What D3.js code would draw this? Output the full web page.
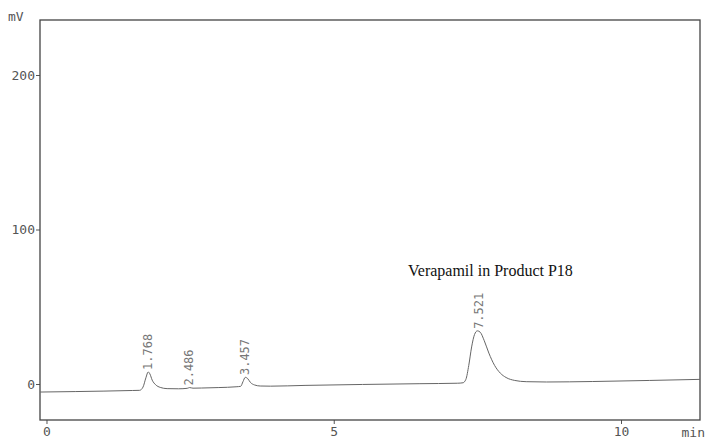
<!DOCTYPE html>
<html><head><meta charset="utf-8">
<script src="https://cdn.jsdelivr.net/npm/d3@7"></script>
<style>body{margin:0;background:#fff;} svg{display:block;}</style>
</head><body>
<svg id="c" width="707" height="440"></svg>
<script>
// Chromatogram trace (time in min, signal in mV)
const traceTime = [-0.11, 0.5, 1.0, 1.5, 1.62, 1.68, 1.73, 1.77, 1.80, 1.84, 1.90, 1.98, 2.10, 2.30, 2.45, 2.49, 2.55, 2.70, 3.00, 3.30, 3.38, 3.42, 3.46, 3.50, 3.55, 3.62, 3.72, 3.90, 4.5, 5.5, 6.5, 7.15, 7.25, 7.30, 7.35, 7.40, 7.45, 7.50, 7.55, 7.62, 7.70, 7.80, 7.90, 8.00, 8.15, 8.35, 8.7, 9.5, 10.5, 11.375];
const traceMv   = [-5.2, -4.9, -4.6, -4.2, -4.1, -2.0, 4.0, 7.8, 6.5, 2.5, -0.5, -2.2, -3.0, -3.1, -2.8, -2.3, -2.7, -2.6, -2.3, -1.8, -1.5, 1.5, 4.3, 3.6, 1.0, -0.6, -1.3, -1.4, -0.9, -0.3, 0.2, 0.5, 0.8, 3.0, 12, 24, 32, 34.4, 33.5, 28, 20, 12, 7, 4.2, 2.3, 1.5, 1.3, 1.6, 2.3, 3.0];
// Peak labels (retention times) and apex heights
const peakLabels = ["1.768", "2.486", "3.457", "7.521"];
const peakTimes  = [1.768, 2.486, 3.457, 7.521];
const peakHeights = [7.8, -2.3, 4.5, 34.4];
const yTicks = [0, 100, 200];
const xTicks = [0, 5, 10];
const annotation = "Verapamil in Product P18";

const svg = d3.select("#c");
const L = 40, R = 700, T = 20, B = 420;
const x = d3.scaleLinear().domain([-0.113, 11.375]).range([L, R]);
const y = d3.scaleLinear().domain([-23.3, 235.6]).range([B, T]);
const mono = "'DejaVu Sans Mono', monospace";
const axisCol = "#555";

// y axis ticks
const ya = svg.append("g").attr("transform", `translate(${L},0)`)
  .call(d3.axisLeft(y).tickValues(yTicks).tickSize(4).tickPadding(1));
ya.select(".domain").remove();
ya.selectAll("line").attr("stroke", axisCol);
ya.selectAll("text").attr("font-family", mono).attr("font-size", 13).attr("fill", "#555");

// x axis ticks
const xa = svg.append("g").attr("transform", `translate(0,${B})`)
  .call(d3.axisBottom(x).tickValues(xTicks).tickSize(4).tickPadding(3));
xa.select(".domain").remove();
xa.selectAll("line").attr("stroke", axisCol);
xa.selectAll("text").attr("font-family", mono).attr("font-size", 13).attr("fill", "#555");

// frame
svg.append("rect").attr("x", L).attr("y", T).attr("width", R - L).attr("height", B - T)
  .attr("fill", "none").attr("stroke", "#444").attr("stroke-width", 1.3);

// units
svg.append("text").attr("x", 8).attr("y", 21).attr("font-family", mono).attr("font-size", 13)
  .attr("fill", "#555").text("mV");
svg.append("text").attr("x", 705).attr("y", 437).attr("text-anchor", "end").attr("font-family", mono)
  .attr("font-size", 13).attr("fill", "#555").text("min");

// trace
const pts = traceTime.map((t, i) => [t, traceMv[i]]);
svg.append("path").datum(pts)
  .attr("d", d3.line().x(d => x(d[0])).y(d => y(d[1])).curve(d3.curveMonotoneX))
  .attr("fill", "none").attr("stroke", "#666").attr("stroke-width", 1);

// peak labels
peakLabels.forEach((lab, i) => {
  const px = x(peakTimes[i]) + 4, py = y(peakHeights[i]) - 2;
  svg.append("text").attr("transform", `translate(${px},${py}) rotate(-90)`)
    .attr("font-family", mono).attr("font-size", 12).attr("fill", "#777").text(lab);
});

// annotation
svg.append("text").attr("x", 408).attr("y", 276)
  .attr("font-family", "'Liberation Serif', 'Times New Roman', serif").attr("font-size", 16)
  .attr("fill", "#111").text(annotation);
</script>
</body></html>
